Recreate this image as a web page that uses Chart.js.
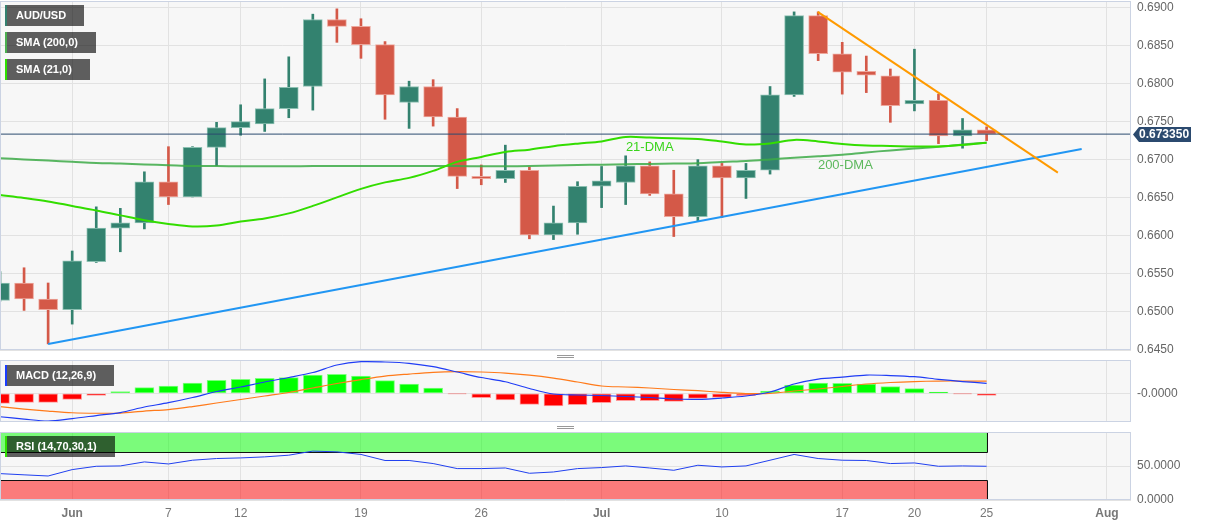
<!DOCTYPE html>
<html>
<head>
<meta charset="utf-8">
<script src="https://cdn.jsdelivr.net/npm/chart.js@4.4.0/dist/chart.umd.min.js"></script>
<style>
body{margin:0;background:#fff;width:1207px;height:526px;overflow:hidden;position:relative;font-family:"Liberation Sans",Arial,sans-serif}
.pane{position:absolute;left:0}
.tag{position:absolute;left:5px;height:21px;background:rgba(0,0,0,.62);color:#fff;font:bold 11px/21px "Liberation Sans",Arial,sans-serif;padding:0 18px 0 9px;border-left:2px solid;white-space:nowrap}
.grip{position:absolute;left:557px;width:17px;height:1px;border-top:1px solid #999;border-bottom:1px solid #999}
</style>
</head>
<body>
<div class="pane" style="top:0"><canvas id="priceChart" width="1207" height="360"></canvas></div>
<div class="pane" style="top:355px"><canvas id="macdChart" width="1207" height="72"></canvas></div>
<div class="pane" style="top:427px"><canvas id="rsiChart" width="1207" height="99"></canvas></div>
<div class="tag" style="top:5px;border-color:#33806f">AUD/USD</div>
<div class="tag" style="top:32px;border-color:#4caf50">SMA (200,0)</div>
<div class="tag" style="top:59px;border-color:#2ee000">SMA (21,0)</div>
<div class="tag" style="top:365px;border-color:#1a3cff">MACD (12,26,9)</div>
<div class="tag" style="top:436px;border-color:#2ee000">RSI (14,70,30,1)</div>
<div class="grip" style="top:355px"></div>
<div class="grip" style="top:426px"></div>
<script>
const days = ['May 29','May 30','May 31','Jun 1','Jun 2','Jun 5','Jun 6','Jun 7','Jun 8','Jun 9','Jun 12','Jun 13','Jun 14','Jun 15','Jun 16','Jun 19','Jun 20','Jun 21','Jun 22','Jun 23','Jun 26','Jun 27','Jun 28','Jun 29','Jun 30','Jul 3','Jul 4','Jul 5','Jul 6','Jul 7','Jul 10','Jul 11','Jul 12','Jul 13','Jul 14','Jul 17','Jul 18','Jul 19','Jul 20','Jul 21','Jul 24','Jul 25'];
const opens  = [0.6515,0.6538,0.6517,0.6503,0.6566,0.6610,0.6617,0.6671,0.6651,0.6716,0.6742,0.6747,0.6767,0.6796,0.6884,0.6875,0.6851,0.6775,0.6796,0.6756,0.6678,0.6675,0.6686,0.6601,0.6617,0.6665,0.6670,0.6692,0.6655,0.6625,0.6692,0.6676,0.6686,0.6785,0.6889,0.6839,0.6816,0.6810,0.6773,0.6778,0.6731,0.6739];
const highs  = [0.6553,0.6558,0.6538,0.6580,0.6638,0.6636,0.6684,0.6717,0.6717,0.6749,0.6772,0.6806,0.6835,0.6891,0.6898,0.6885,0.6855,0.6803,0.6805,0.6767,0.6693,0.6719,0.6690,0.6639,0.6671,0.6691,0.6705,0.6697,0.6686,0.6700,0.6695,0.6695,0.6796,0.6894,0.6894,0.6854,0.6836,0.6819,0.6845,0.6786,0.6754,0.6743];
const lows   = [0.6514,0.6502,0.6458,0.6484,0.6565,0.6579,0.6609,0.6641,0.6651,0.6692,0.6732,0.6737,0.6755,0.6765,0.6854,0.6833,0.6753,0.6741,0.6744,0.6662,0.6667,0.6670,0.6596,0.6595,0.6602,0.6637,0.6641,0.6653,0.6599,0.6619,0.6624,0.6649,0.6681,0.6783,0.6830,0.6786,0.6788,0.6749,0.6764,0.6721,0.6715,0.6725];
const closes = [0.6538,0.6517,0.6503,0.6567,0.6610,0.6617,0.6671,0.6651,0.6716,0.6742,0.6750,0.6767,0.6795,0.6884,0.6875,0.6851,0.6785,0.6796,0.6756,0.6678,0.6675,0.6686,0.6601,0.6617,0.6665,0.6672,0.6692,0.6655,0.6625,0.6692,0.6676,0.6686,0.6785,0.6889,0.6839,0.6815,0.6811,0.6771,0.6778,0.6731,0.6739,0.67335];
const sma200 = [0.67018,0.67003,0.66987,0.66972,0.66957,0.66948,0.66937,0.66927,0.66917,0.66915,0.66913,0.66913,0.66913,0.66915,0.66916,0.66917,0.66917,0.66917,0.66916,0.66915,0.66913,0.66913,0.66917,0.66924,0.66930,0.66934,0.66938,0.66944,0.66948,0.66953,0.66970,0.66983,0.67003,0.67025,0.67043,0.67064,0.67095,0.67121,0.67147,0.67169,0.67197,0.67223];
const sma21  = [0.66537,0.66497,0.66451,0.66392,0.66333,0.66268,0.66205,0.66156,0.66122,0.66134,0.66186,0.66228,0.66294,0.66392,0.66504,0.66616,0.66701,0.66760,0.66852,0.66970,0.67035,0.67101,0.67131,0.67176,0.67210,0.67239,0.67298,0.67289,0.67281,0.67272,0.67239,0.67200,0.67213,0.67259,0.67239,0.67206,0.67186,0.67180,0.67173,0.67173,0.67193,0.67223];
const supportLine    = [{x: 2, y: 0.6458}, {x: 44.95, y: 0.6714}];
const resistanceLine = [{x: 33.98, y: 0.6894}, {x: 43.96, y: 0.6683}];
const lastPrice = 0.67335;
const macdLine   = [-0.00374,-0.00411,-0.00442,-0.00403,-0.00355,-0.00307,-0.00219,-0.00150,-0.00067,0.00029,0.00101,0.00181,0.00252,0.00332,0.00452,0.00505,0.00500,0.00479,0.00425,0.00340,0.00252,0.00185,0.00077,-0.00011,-0.00027,-0.00035,-0.00051,-0.00067,-0.00091,-0.00096,-0.00075,-0.00043,0.00021,0.00149,0.00228,0.00260,0.00292,0.00284,0.00265,0.00224,0.00188,0.00160];
const signalLine = [-0.00214,-0.00251,-0.00283,-0.00310,-0.00318,-0.00315,-0.00283,-0.00259,-0.00211,-0.00155,-0.00099,-0.00043,0.00013,0.00085,0.00157,0.00220,0.00276,0.00308,0.00335,0.00345,0.00340,0.00324,0.00292,0.00244,0.00181,0.00117,0.00101,0.00085,0.00061,0.00042,0.00016,-0.00003,-0.00003,0.00037,0.00069,0.00109,0.00149,0.00173,0.00188,0.00196,0.00196,0.00196];
const histogram  = [-0.00160,-0.00144,-0.00144,-0.00096,-0.00032,0.00027,0.00091,0.00117,0.00165,0.00208,0.00224,0.00240,0.00251,0.00292,0.00304,0.00276,0.00203,0.00149,0.00085,-0.00011,-0.00069,-0.00107,-0.00176,-0.00203,-0.00181,-0.00149,-0.00117,-0.00117,-0.00128,-0.00080,-0.00064,-0.00037,0.00037,0.00133,0.00165,0.00160,0.00149,0.00107,0.00075,0.00021,-0.00011,-0.00032];
const rsi = [38.8,37.0,35.3,44.7,49.6,50.1,56.0,53.0,58.5,61.0,61.9,63.4,65.9,71.9,70.8,67.0,58.1,58.1,53.6,46.2,46.2,47.1,39.3,41.2,46.2,47.7,50.1,47.1,43.7,51.1,48.6,50.1,58.5,67.0,61.0,58.5,58.1,53.6,54.5,49.6,50.1,49.6];
const rsiUpper = 70, rsiLower = 30;
const axisTicks  = [3, 7, 10, 15, 20, 25, 30, 35, 38, 41, 46];
const axisLabels = ['Jun', '7', '12', '19', '26', 'Jul', '10', '17', '20', '25', 'Aug'];
const priceTicks = [0.645, 0.65, 0.655, 0.66, 0.665, 0.67, 0.675, 0.68, 0.685, 0.69];

Chart.defaults.font.family = '"Liberation Sans", Arial, sans-serif';
Chart.defaults.font.size = 12;
Chart.defaults.color = '#666';
Chart.defaults.animation = false;

const up = closes.map((c, i) => c >= opens[i]);
const candleColor = up.map(u => u ? '#33826f' : '#d45948');
const candleEdge = up.map(u => u ? '#8cc0b2' : '#eda79c');
const pts = arr => arr.map((v, i) => ({x: i, y: v}));

const panel = {
    id: 'panel',
    beforeDraw(chart) {
        const a = chart.chartArea;
        chart.ctx.save();
        chart.ctx.fillStyle = '#f7f7f7';
        chart.ctx.fillRect(a.left, a.top, a.right - a.left, a.bottom - a.top);
        chart.ctx.restore();
    },
    afterDraw(chart) {
        const a = chart.chartArea, ctx = chart.ctx;
        ctx.save();
        ctx.strokeStyle = '#cbd3e3';
        ctx.lineWidth = 1;
        ctx.strokeRect(a.left + 0.5, a.top + 0.5, a.right - a.left - 1, a.bottom - a.top - 1);
        ctx.restore();
    }
};

function xScale(showLabels) {
    return {
        type: 'linear', min: 0, max: 47, offset: false,
        afterBuildTicks: s => { s.ticks = axisTicks.map(v => ({value: v})); },
        afterFit: s => { if (!showLabels) s.height = 0; else s.height = 26; s.paddingLeft = 0; s.paddingRight = 0; },
        grid: {color: '#e2e2e2', drawTicks: false, offset: false},
        border: {display: false},
        ticks: {
            display: showLabels, padding: 6, color: '#777', maxRotation: 0, autoSkip: false,
            callback: v => axisLabels[axisTicks.indexOf(v)],
            font: c => ({weight: /^[A-Z]/.test(axisLabels[c.index] || '') ? 'bold' : 'normal'})
        }
    };
}

function yScale(min, max, ticks, fmt) {
    return {
        type: 'linear', position: 'right', min: min, max: max,
        afterBuildTicks: s => { s.ticks = ticks.map(v => ({value: v})); },
        afterFit: s => { s.width = 76; s.paddingTop = 0; s.paddingBottom = 0; },
        grid: {color: '#e2e2e2', drawTicks: false},
        border: {display: false},
        ticks: {padding: 6, callback: fmt}
    };
}

const priceExtras = {
    id: 'priceExtras',
    afterDatasetsDraw(chart) {
        const {ctx, scales: {x, y}} = chart;
        ctx.save();
        ctx.font = '13px "Liberation Sans", Arial, sans-serif';
        ctx.textAlign = 'center';
        ctx.textBaseline = 'middle';
        ctx.fillStyle = '#3ad41c';
        ctx.fillText('21-DMA', x.getPixelForValue(27), y.getPixelForValue(0.67157));
        ctx.fillStyle = '#5cb85c';
        ctx.fillText('200-DMA', x.getPixelForValue(35.13), y.getPixelForValue(0.66929));
        ctx.restore();
    },
    afterDraw(chart) {
        const {ctx, chartArea, scales: {y}} = chart;
        const py = Math.round(y.getPixelForValue(lastPrice)) + 0.5;
        const x0 = chartArea.right + 2;
        ctx.save();
        ctx.fillStyle = '#2b4a6f';
        ctx.beginPath();
        ctx.moveTo(x0, py);
        ctx.lineTo(x0 + 6, py - 7.5);
        ctx.lineTo(x0 + 58, py - 7.5);
        ctx.lineTo(x0 + 58, py + 7.5);
        ctx.lineTo(x0 + 6, py + 7.5);
        ctx.closePath();
        ctx.fill();
        ctx.fillStyle = '#fff';
        ctx.font = 'bold 12px "Liberation Sans", Arial, sans-serif';
        ctx.textBaseline = 'middle';
        ctx.fillText(lastPrice.toFixed(6), x0 + 6, py + 0.5);
        ctx.restore();
    }
};

new Chart(document.getElementById('priceChart'), {
    type: 'line',
    data: {datasets: [
        {type: 'line', data: [{x: 0, y: lastPrice}, {x: 47, y: lastPrice}], borderColor: '#2b4a6f', borderWidth: 1, pointRadius: 0, order: 1},
        {type: 'line', data: resistanceLine, borderColor: '#ff9a00', borderWidth: 2, pointRadius: 0, order: 2},
        {type: 'line', data: supportLine, borderColor: '#2196f3', borderWidth: 2, pointRadius: 0, order: 2},
        {type: 'line', data: pts(sma21), borderColor: '#33dd00', borderWidth: 2, pointRadius: 0, tension: 0.35, order: 3},
        {type: 'line', data: pts(sma200), borderColor: 'rgba(60,170,70,0.85)', borderWidth: 2, pointRadius: 0, tension: 0.35, order: 4},
        {type: 'bar', data: days.map((d, i) => ({x: i, y: [opens[i], closes[i]]})), backgroundColor: candleColor, borderColor: candleEdge, borderWidth: 1, borderSkipped: false, barThickness: 19, grouped: false, order: 5},
        {type: 'bar', data: days.map((d, i) => ({x: i, y: [lows[i], highs[i]]})), backgroundColor: candleColor, barThickness: 2, grouped: false, order: 6}
    ]},
    options: {
        responsive: false,
        layout: {padding: {top: 1, bottom: 10, left: 0, right: 0}},
        plugins: {legend: {display: false}, tooltip: {enabled: false}},
        scales: {
            x: xScale(false),
            y: yScale(0.6450, 0.69083, priceTicks, v => v.toFixed(4))
        }
    },
    plugins: [panel, priceExtras]
});

new Chart(document.getElementById('macdChart'), {
    type: 'line',
    data: {datasets: [
        {type: 'line', data: pts(macdLine), borderColor: '#1f3cf5', borderWidth: 1.2, pointRadius: 0, tension: 0.3, order: 1},
        {type: 'line', data: pts(signalLine), borderColor: '#ff7a1a', borderWidth: 1.2, pointRadius: 0, tension: 0.3, order: 2},
        {type: 'bar', data: pts(histogram), backgroundColor: histogram.map(v => v >= 0 ? '#00ff00' : '#ff0000'), borderColor: histogram.map(v => v >= 0 ? '#7dff7d' : '#ff9a9a'), borderWidth: 1, borderSkipped: false, barThickness: 19, grouped: false, order: 3}
    ]},
    options: {
        responsive: false,
        layout: {padding: {top: 5, bottom: 5, left: 0, right: 0}},
        plugins: {legend: {display: false}, tooltip: {enabled: false}},
        scales: {
            x: xScale(false),
            y: yScale(-0.00458, 0.00532, [0], () => '-0.0000')
        }
    },
    plugins: [panel]
});

const rsiBands = {
    id: 'rsiBands',
    beforeDatasetsDraw(chart) {
        const {ctx, chartArea, scales: {x, y}} = chart;
        const left = chartArea.left + 0.5;
        const right = Math.round(x.getPixelForValue(days.length - 1)) + 0.5;
        const yTop = y.getPixelForValue(100), y70 = Math.round(y.getPixelForValue(rsiUpper)) + 0.5;
        const y30 = Math.round(y.getPixelForValue(rsiLower)) + 0.5, yBot = y.getPixelForValue(0);
        ctx.save();
        ctx.fillStyle = 'rgba(0,255,0,0.5)';
        ctx.fillRect(left, yTop, right - left, y70 - yTop);
        ctx.fillStyle = 'rgba(255,0,0,0.5)';
        ctx.fillRect(left, y30, right - left, yBot - y30);
        ctx.strokeStyle = '#111';
        ctx.lineWidth = 1;
        ctx.beginPath();
        ctx.moveTo(left, yTop); ctx.lineTo(left, y70); ctx.lineTo(right, y70); ctx.lineTo(right, yTop);
        ctx.moveTo(left, yBot); ctx.lineTo(left, y30); ctx.lineTo(right, y30); ctx.lineTo(right, yBot);
        ctx.stroke();
        ctx.restore();
    }
};

new Chart(document.getElementById('rsiChart'), {
    type: 'line',
    data: {datasets: [
        {data: pts(rsi), borderColor: '#2040f0', borderWidth: 1, pointRadius: 0, tension: 0}
    ]},
    options: {
        responsive: false,
        layout: {padding: {top: 5, bottom: 0, left: 0, right: 0}},
        plugins: {legend: {display: false}, tooltip: {enabled: false}},
        scales: {
            x: xScale(true),
            y: yScale(0, 100, [0, 50], v => v.toFixed(4))
        }
    },
    plugins: [panel, rsiBands]
});
</script>
</body>
</html>
